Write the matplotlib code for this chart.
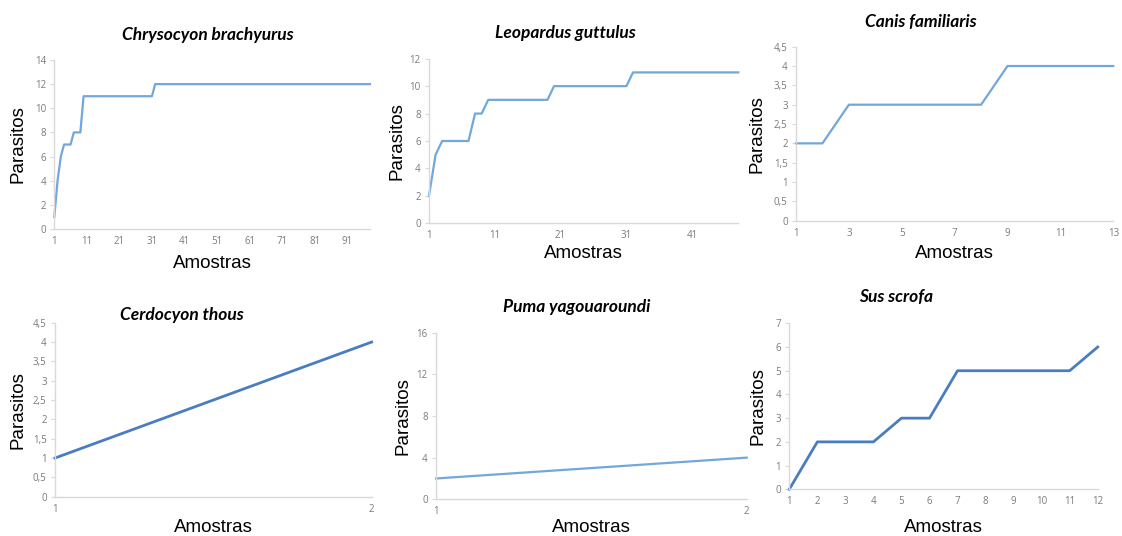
import matplotlib
matplotlib.use("Agg")
import matplotlib.pyplot as plt

# dados: numero acumulado de parasitos por amostra
chryso_y = [1, 4, 6, 7, 7, 7, 8, 8, 8] + [11] * 22 + [12] * 67
leopardus_y = [2, 5, 6, 6, 6, 6, 6, 8, 8] + [9] * 10 + [10] * 12 + [11] * 17
canis_y = [2, 2, 3, 3, 3, 3, 3, 3, 4, 4, 4, 4, 4]
cerdocyon_y = [1, 4]
puma_y = [2, 4]
sus_y = [0, 2, 2, 2, 3, 3, 5, 5, 5, 5, 5, 6]

chryso_xt = [1, 11, 21, 31, 41, 51, 61, 71, 81, 91]
leopardus_xt = [1, 11, 21, 31, 41]
canis_xt = [1, 3, 5, 7, 9, 11, 13]
cerdocyon_xt = [1, 2]
puma_xt = [1, 2]
sus_xt = list(range(1, 13))

W, H = 1122, 536
CLARO = "#72A7DE"
ESCURO = "#4A7DBF"

fig = plt.figure(figsize=(W / 100, H / 100), dpi=100)


def painel(box, y, xt, yt, ylim, titulo, tpos, ylx, xly, cor, lw, decimal=False):
    l, t, r, b = box
    ax = fig.add_axes([l / W, 1 - b / H, (r - l) / W, (b - t) / H])
    x = list(range(1, len(y) + 1))
    ax.plot(x, y, color=cor, lw=lw, clip_on=False, solid_joinstyle="round")
    ax.set_xlim(1, len(y))
    ax.set_ylim(0, ylim)
    ax.set_xticks(xt)
    ax.set_yticks(yt)
    if decimal:
        ax.set_yticklabels([("%g" % v).replace(".", ",") for v in yt])
    for s in ["top", "right"]:
        ax.spines[s].set_visible(False)
    for s in ["left", "bottom"]:
        ax.spines[s].set_color("#D9D9D9")
        ax.spines[s].set_linewidth(1.0)
    ax.tick_params(axis="y", length=3, width=0.8, color="#D9D9D9",
                   labelsize=7, labelcolor="#7A7A7A", pad=3)
    ax.tick_params(axis="x", length=0, labelsize=7, labelcolor="#7A7A7A", pad=5)
    for lab in ax.get_xticklabels() + ax.get_yticklabels():
        lab.set_family("Open Sans")
    fig.text(tpos[0] / W, 1 - tpos[1] / H, titulo, ha="center", va="center",
             fontsize=12.5, fontweight="bold", fontstyle="italic", family="Lato")
    fig.text(ylx / W, 1 - (t + b) / 2 / H, "Parasitos", rotation=90,
             ha="center", va="center", fontsize=13.5, family="Liberation Sans")
    fig.text((l + r) / 2 / W, 1 - xly / H, "Amostras", ha="center", va="center",
             fontsize=13.5, family="Liberation Sans")
    return ax


painel((54.3, 60, 370, 229), chryso_y, chryso_xt, range(0, 15, 2), 14,
       "Chrysocyon brachyurus", (208, 35), 18, 264, CLARO, 1.6)
painel((429, 58.7, 738.3, 223.3), leopardus_y, leopardus_xt, range(0, 13, 2), 12,
       "Leopardus guttulus", (565, 33), 397, 253, CLARO, 1.6)
painel((796, 46.7, 1113.3, 220.7), canis_y, canis_xt,
       [0, 0.5, 1, 1.5, 2, 2.5, 3, 3.5, 4, 4.5], 4.5,
       "Canis familiaris", (921, 22), 757, 253, CLARO, 1.6, decimal=True)
painel((55, 322.7, 371.7, 496.7), cerdocyon_y, cerdocyon_xt,
       [0, 0.5, 1, 1.5, 2, 2.5, 3, 3.5, 4, 4.5], 4.5,
       "Cerdocyon thous", (182, 315), 18, 528, ESCURO, 2.0, decimal=True)
painel((436, 332.7, 746.7, 499.3), puma_y, puma_xt, range(0, 17, 4), 16,
       "Puma yagouaroundi", (577, 307), 403, 528, CLARO, 1.6)
painel((789.3, 323.3, 1097.7, 489.3), sus_y, sus_xt, range(0, 8), 7,
       "Sus scrofa", (896, 297), 758, 527, ESCURO, 2.0)

fig.savefig("out.png", dpi=100)
